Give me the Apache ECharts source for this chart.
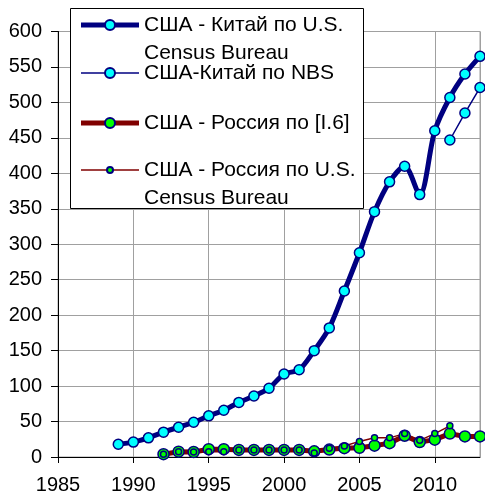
<!DOCTYPE html>
<html>
<head>
<meta charset="utf-8">
<script src="https://cdn.jsdelivr.net/npm/echarts@6/dist/echarts.min.js"></script>
<style>
  html, body { margin: 0; padding: 0; background: #fff; }
  #chart { width: 485px; height: 499px; }
</style>
</head>
<body>
<div id="chart"></div>
<script>
// US-China trade, US Census Bureau (1989-2013)
const chinaYears = [1989, 1990, 1991, 1992, 1993, 1994, 1995, 1996, 1997, 1998, 1999, 2000,
  2001, 2002, 2003, 2004, 2005, 2006, 2007, 2008, 2009, 2010, 2011, 2012, 2013]
const chinaCensus = [18, 21, 27, 35, 42, 49, 58, 66, 77, 86, 97, 117,
  123, 150, 182, 234, 288, 346, 388, 410, 370, 460, 507, 540, 565]

// US-China trade, NBS
const nbsYears = [2011, 2012, 2013]
const chinaNbs = [447, 485, 521]

// US-Russia trade, source [I.6]
const russiaYears = [1992, 1993, 1994, 1995, 1996, 1997, 1998, 1999, 2000, 2001, 2002,
  2003, 2004, 2005, 2006, 2007, 2008, 2009, 2010, 2011, 2012, 2013]
const russiaI6 = [4, 7.5, 7, 11, 11, 10, 10, 10, 10, 10, 8,
  10.5, 12.5, 13, 16, 19.5, 30, 21, 24.5, 33, 29, 29]

// US-Russia trade, US Census Bureau
const russiaCensusYears = [1992, 1993, 1994, 1995, 1996, 1997, 1998, 1999, 2000, 2001,
  2002, 2003, 2004, 2005, 2006, 2007, 2008, 2009, 2010, 2011]
const russiaCensus = [4, 7.5, 7, 7.5, 7.5, 10, 10, 10, 10, 10,
  5.5, 12.5, 15.5, 22, 27, 27, 33, 23.5, 33, 44]

const seriesNames = [
  'США - Китай по U.S. Census Bureau',
  'США-Китай по NBS',
  'США - Россия по [I.6]',
  'США - Россия по U.S. Census Bureau'
]

const pairs = (xs, ys) => xs.map((x, i) => [x, ys[i]])
const font = 'Liberation Sans, Arial, sans-serif'

// one legend per entry so every row can be placed like the original
function legendItem(name, top, itemHeight, lineWidth, twoLines) {
  return {
    data: [name],
    left: 81 - lineWidth / 2,
    top: top,
    padding: 0,
    itemWidth: 58,
    itemHeight: itemHeight,
    selectedMode: false,
    lineStyle: { width: lineWidth },
    // leading empty line keeps the symbol level with the first text line
    formatter: n => twoLines ? '\n' + n.replace(' Census', '\nCensus') : n,
    textStyle: { fontFamily: font, fontSize: 21, color: '#000', lineHeight: 28 }
  }
}

let myChart = echarts.init(document.getElementById('chart'))

myChart.setOption({
  animation: false,
  grid: { left: 58, right: 5, top: 31.5, bottom: 42, show: true, borderColor: '#a0a0a0', borderWidth: 1 },
  xAxis: {
    type: 'value', min: 1985, max: 2013, interval: 5,
    axisLine: { lineStyle: { color: '#000', width: 1 } },
    axisTick: { show: true, length: 6, lineStyle: { color: '#000' } },
    axisLabel: {
      fontFamily: font, fontSize: 20, color: '#000', margin: 18, showMaxLabel: false,
      formatter: v => String(v)
    },
    splitLine: { show: true, lineStyle: { color: '#a0a0a0', width: 1 } }
  },
  yAxis: {
    type: 'value', min: 0, max: 600, interval: 50,
    axisLine: { show: true, lineStyle: { color: '#000', width: 1 } },
    axisTick: { show: true, length: 7, lineStyle: { color: '#000' } },
    axisLabel: { fontFamily: font, fontSize: 20, color: '#000', margin: 16 },
    splitLine: { show: true, lineStyle: { color: '#a0a0a0', width: 1 } }
  },
  graphic: [{
    type: 'rect', z: 3,
    shape: { x: 70.5, y: 8.5, width: 293, height: 200 },
    style: { fill: '#fff', stroke: '#000', lineWidth: 1 }
  }],
  legend: [
    legendItem(seriesNames[0], -17, 12.5, 5, true),
    legendItem(seriesNames[1], 59, 12.5, 1.5, false),
    legendItem(seriesNames[2], 109, 12.5, 5, false),
    legendItem(seriesNames[3], 128, 7.5, 1.5, true)
  ],
  series: [
    {
      name: seriesNames[0], type: 'line', smooth: 0.3,
      data: pairs(chinaYears, chinaCensus),
      symbol: 'circle', symbolSize: 10,
      lineStyle: { color: '#000080', width: 5 },
      itemStyle: { color: '#00ffff', borderColor: '#000080', borderWidth: 1.5 }
    },
    {
      name: seriesNames[1], type: 'line',
      data: pairs(nbsYears, chinaNbs),
      symbol: 'circle', symbolSize: 10,
      lineStyle: { color: '#000080', width: 1.5 },
      itemStyle: { color: '#00ffff', borderColor: '#000080', borderWidth: 1.5 }
    },
    {
      name: seriesNames[2], type: 'line',
      data: pairs(russiaYears, russiaI6),
      symbol: 'circle', symbolSize: 11,
      lineStyle: { color: '#800000', width: 5 },
      itemStyle: { color: '#00ff00', borderColor: '#000080', borderWidth: 1.5 }
    },
    {
      name: seriesNames[3], type: 'line',
      data: pairs(russiaCensusYears, russiaCensus),
      symbol: 'circle', symbolSize: 6,
      lineStyle: { color: '#800000', width: 1.5 },
      itemStyle: { color: '#00ff00', borderColor: '#000080', borderWidth: 1.5 }
    }
  ]
})
</script>
</body>
</html>
